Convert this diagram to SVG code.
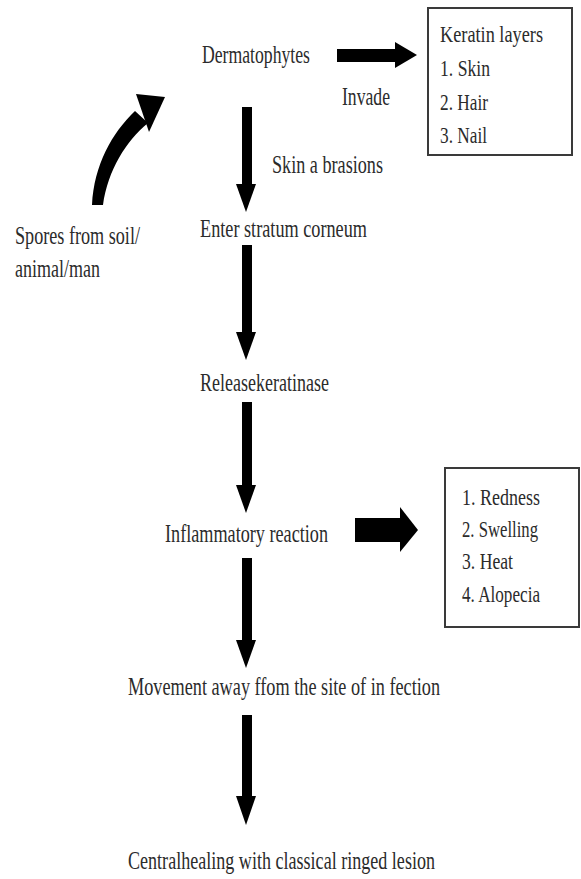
<svg xmlns="http://www.w3.org/2000/svg" width="581" height="879" viewBox="0 0 581 879">
<style>
  text { font-family: "Liberation Serif", "Times New Roman", serif; font-size: 26px; fill: #2b2b2b; }
  .small { font-size: 24px; }
  .box { fill: none; stroke: #3a3a3a; stroke-width: 2; }
  .arr { fill: #000; stroke: none; }
</style>
<rect x="0" y="0" width="581" height="879" fill="#fff"/>
<g id="connectors">
  <!-- curved arrow from spores -->
  <path class="arr" d="M92,205 C94,165 112,133 135,111 L148,123 C126,141 108,170 103,205 Z"/>
  <polygon class="arr" points="136,94 165,97 149,132"/>
  <!-- Dermatophytes -> Keratin layers -->
  <rect class="arr" x="337" y="49" width="59" height="13"/>
  <polygon class="arr" points="395,42 395,68 417,55"/>
  <!-- vertical arrows -->
  <rect class="arr" x="242" y="107" width="10" height="78"/>
  <polygon class="arr" points="236,184 256,184 246,212"/>
  <rect class="arr" x="242" y="245" width="10" height="88"/>
  <polygon class="arr" points="236,332 256,332 246,360"/>
  <rect class="arr" x="242" y="402" width="10" height="84"/>
  <polygon class="arr" points="236,485 256,485 246,513"/>
  <rect class="arr" x="242" y="558" width="10" height="83"/>
  <polygon class="arr" points="236,640 256,640 246,668"/>
  <rect class="arr" x="242" y="715" width="10" height="82"/>
  <polygon class="arr" points="236,796 256,796 246,825"/>
  <!-- Inflammatory reaction -> symptoms -->
  <rect class="arr" x="355" y="518" width="46" height="24"/>
  <polygon class="arr" points="400,507 400,552 418,530"/>
  <text x="342" y="105" textLength="48" lengthAdjust="spacingAndGlyphs">Invade</text>
  <text x="272" y="173" textLength="111" lengthAdjust="spacingAndGlyphs">Skin a brasions</text>
</g>
<g id="spores">
  <text x="15" y="244" textLength="125" lengthAdjust="spacingAndGlyphs">Spores from soil/</text>
  <text x="15" y="277" textLength="85" lengthAdjust="spacingAndGlyphs">animal/man</text>
</g>
<g id="dermatophytes">
  <text x="202" y="63" textLength="108" lengthAdjust="spacingAndGlyphs">Dermatophytes</text>
</g>
<g id="keratin">
  <rect class="box" x="428" y="8" width="144" height="147"/>
  <text class="small" x="440" y="42" textLength="103" lengthAdjust="spacingAndGlyphs">Keratin layers</text>
  <text class="small" x="440" y="76" textLength="50" lengthAdjust="spacingAndGlyphs">1. Skin</text>
  <text class="small" x="440" y="110" textLength="48" lengthAdjust="spacingAndGlyphs">2. Hair</text>
  <text class="small" x="440" y="143" textLength="47" lengthAdjust="spacingAndGlyphs">3. Nail</text>
</g>
<g id="stratum">
  <text x="200" y="237" textLength="167" lengthAdjust="spacingAndGlyphs">Enter stratum corneum</text>
</g>
<g id="keratinase">
  <text x="200" y="391" textLength="129" lengthAdjust="spacingAndGlyphs">Releasekeratinase</text>
</g>
<g id="inflammatory">
  <text x="165" y="542" textLength="163" lengthAdjust="spacingAndGlyphs">Inflammatory reaction</text>
</g>
<g id="symptoms">
  <rect class="box" x="445" y="468" width="134" height="159"/>
  <text class="small" x="462" y="505" textLength="78" lengthAdjust="spacingAndGlyphs">1. Redness</text>
  <text class="small" x="462" y="537" textLength="76" lengthAdjust="spacingAndGlyphs">2. Swelling</text>
  <text class="small" x="462" y="569" textLength="51" lengthAdjust="spacingAndGlyphs">3. Heat</text>
  <text class="small" x="462" y="602" textLength="78" lengthAdjust="spacingAndGlyphs">4. Alopecia</text>
</g>
<g id="movement">
  <text x="128" y="695" textLength="312" lengthAdjust="spacingAndGlyphs">Movement away ffom the site of in fection</text>
</g>
<g id="healing">
  <text x="128" y="869" textLength="307" lengthAdjust="spacingAndGlyphs">Centralhealing with classical ringed lesion</text>
</g>
</svg>
